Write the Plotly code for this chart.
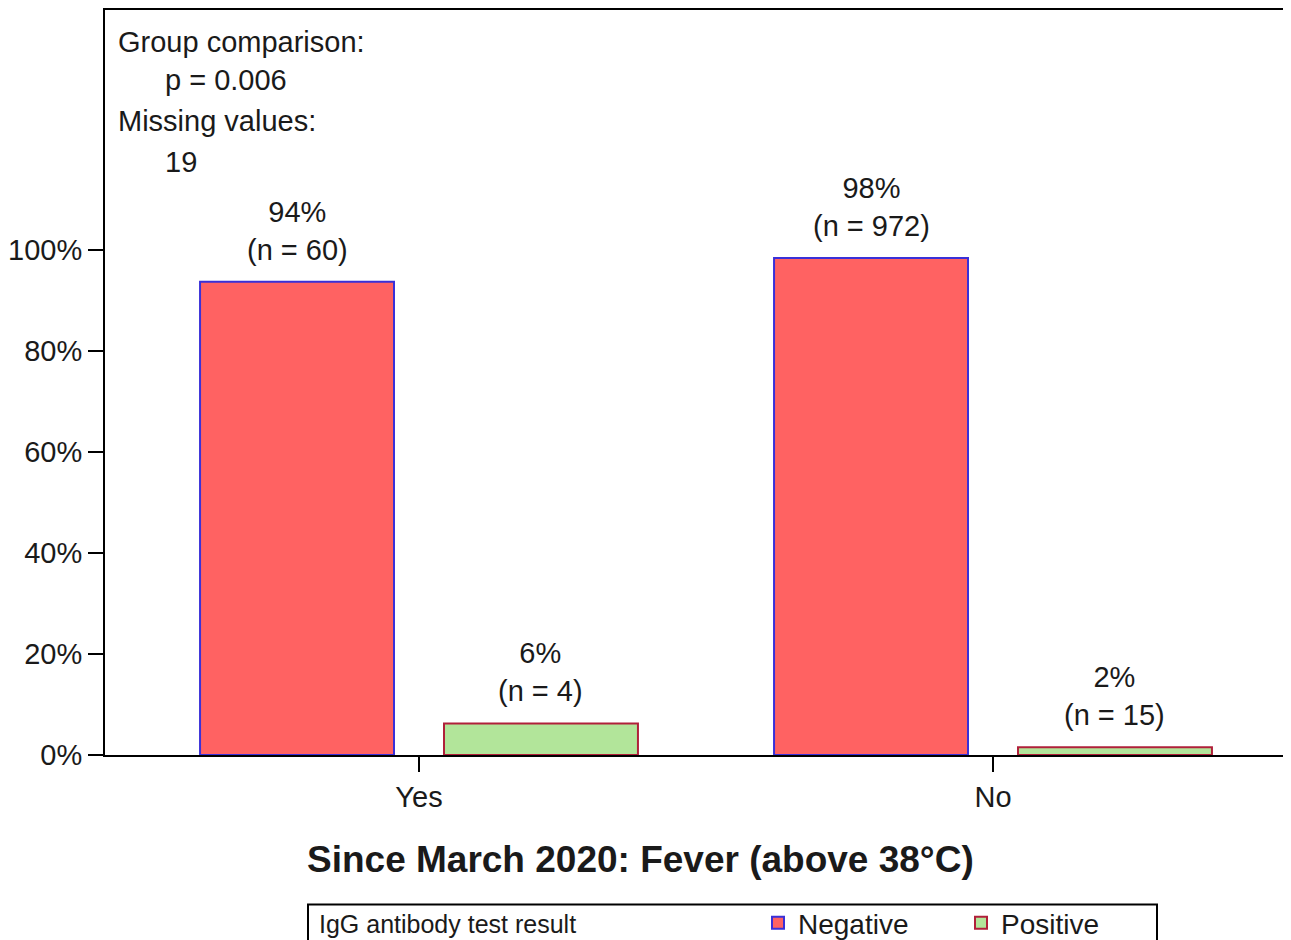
import plotly.graph_objects as go

# data
categories = ["Yes", "No"]
neg_pct = [93.75, 98.48]
pos_pct = [6.25, 1.52]
neg_n = [60, 972]
pos_n = [4, 15]
neg_label = ["94%", "98%"]
pos_label = ["6%", "2%"]
y_ticks = [0, 20, 40, 60, 80, 100]

FONT = "Liberation Sans, Arial, sans-serif"
TXT = "#1a1a1a"
BARGAP = 0.15
GROUPGAP = 0.205
W = 1320
L = 97

fig = go.Figure()

fig.add_trace(go.Bar(
    name="Negative", x=categories, y=neg_pct,
    marker=dict(color="#FF6262", line=dict(color="#3a30d8", width=2)),
))
fig.add_trace(go.Bar(
    name="Positive", x=categories, y=pos_pct,
    marker=dict(color="#B2E59A", line=dict(color="#B0203A", width=2)),
))

# labels above bars (grouped offset follows from bargap)
off = (1 - BARGAP) / 4
for i, cat in enumerate(categories):
    for sign, pct, lab, n in [(-1, neg_pct[i], neg_label[i], neg_n[i]),
                              (1, pos_pct[i], pos_label[i], pos_n[i])]:
        fig.add_annotation(x=i + sign * off, y=pct, xref="x", yref="y",
                           text=f"{lab}<br>(n = {n})", showarrow=False,
                           xanchor="center", yanchor="bottom", yshift=14,
                           font=dict(size=29, color=TXT))

plot_w = W - L

fig.update_layout(
    width=W, height=940,
    margin=dict(l=L, r=0, t=0, b=193),
    plot_bgcolor="white", paper_bgcolor="white",
    font=dict(family=FONT, size=29, color=TXT),
    barmode="group", bargap=BARGAP, bargroupgap=GROUPGAP,
    showlegend=True,
    legend=dict(orientation="h", x=653 / plot_w, xanchor="left", y=-0.2262, yanchor="middle",
                font=dict(size=28), entrywidth=158, entrywidthmode="pixels",
                bgcolor="rgba(0,0,0,0)"),
)

# keep 574 px per category, "Yes" 314 px right of the axis
x0 = -314 / 574
fig.update_xaxes(
    type="category", range=[x0, x0 + plot_w / 574],
    showline=True, linecolor="black", linewidth=2, mirror=True,
    ticks="outside", ticklen=15, tickwidth=2, tickcolor="black",
    showgrid=False, zeroline=False,
    tickfont=dict(size=29, color=TXT),
)
fig.update_yaxes(
    range=[0, 147.6], tickvals=y_ticks, ticktext=[f"{v}%" for v in y_ticks],
    showline=True, linecolor="black", linewidth=2,
    ticks="outside", ticklen=15, tickwidth=2, tickcolor="black",
    showgrid=False, zeroline=False,
    tickfont=dict(size=29, color=TXT),
)

# top-left notes
notes = [("Group comparison:", 11, -32), ("p = 0.006", 58, -70),
         ("Missing values:", 11, -111), ("19", 58, -152)]
for txt, xs, ys in notes:
    fig.add_annotation(text=txt, xref="paper", yref="paper", x=0, y=1,
                       xanchor="left", yanchor="middle", xshift=xs, yshift=ys,
                       showarrow=False, font=dict(size=29, color=TXT))

# x axis title
fig.add_annotation(text="<b>Since March 2020: Fever (above 38°C)</b>",
                   xref="paper", yref="paper", x=535 / plot_w, y=-0.1406,
                   xanchor="center", yanchor="middle", showarrow=False,
                   font=dict(size=37, color=TXT))

# legend frame + title
fig.add_shape(type="rect", xref="paper", yref="paper",
              x0=203 / plot_w, x1=1052 / plot_w, y0=-0.2008, y1=-0.27,
              line=dict(color="black", width=2))
fig.add_annotation(text="IgG antibody test result", xref="paper", yref="paper",
                   x=212 / plot_w, y=-0.2262, xanchor="left", yanchor="middle",
                   showarrow=False, font=dict(size=25, color=TXT))

fig.write_html("out.html")
